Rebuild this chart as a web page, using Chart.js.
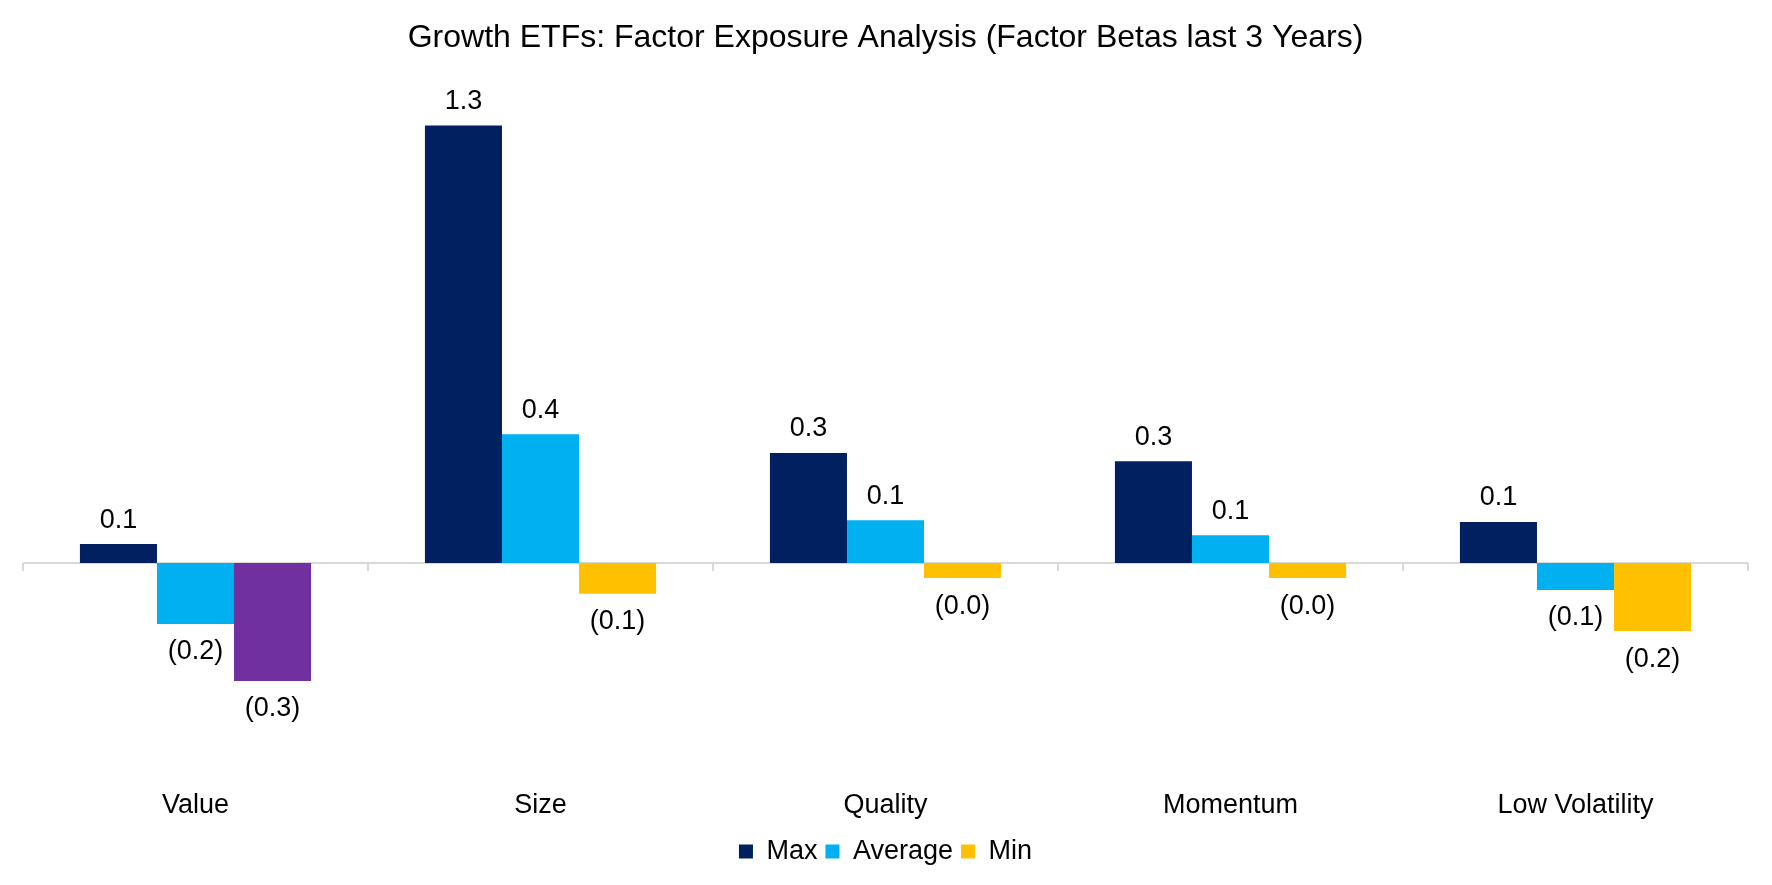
<!DOCTYPE html>
<html>
<head>
<meta charset="utf-8">
<script src="https://cdn.jsdelivr.net/npm/chart.js@4"></script>
<style>
  body { margin: 0; background: #fff; }
  #wrap { width: 1772px; height: 885px; }
</style>
</head>
<body>
<div id="wrap"><canvas id="factorChart"></canvas></div>
<script>
const categories = ['Value', 'Size', 'Quality', 'Momentum', 'Low Volatility'];
const maxBetas = [0.056, 1.288, 0.324, 0.300, 0.121];
const avgBetas = [-0.179, 0.379, 0.126, 0.082, -0.079];
const minBetas = [-0.347, -0.090, -0.044, -0.044, -0.200];

const FONT = '"Liberation Sans", Arial, sans-serif';

// (0.2) style for negatives, like the excel number format
function fmt(v) {
  const s = Math.abs(v).toFixed(1);
  return v < 0 ? '(' + s + ')' : s;
}

const zeroAxis = {
  id: 'zeroAxis',
  beforeDatasetsDraw(chart) {
    const { ctx, chartArea, scales } = chart;
    const y0 = scales.y.getPixelForValue(0);
    ctx.save();
    ctx.strokeStyle = '#d9d9d9';
    ctx.lineWidth = 2;
    ctx.beginPath();
    ctx.moveTo(chartArea.left, y0);
    ctx.lineTo(chartArea.right, y0);
    for (let i = 0; i <= categories.length; i++) {
      const x = scales.x.getPixelForValue(i - 0.5);
      ctx.moveTo(x, y0);
      ctx.lineTo(x, y0 + 8);
    }
    ctx.stroke();
    ctx.restore();
  }
};

const barLabels = {
  id: 'barLabels',
  afterDatasetsDraw(chart) {
    const { ctx } = chart;
    ctx.save();
    ctx.font = '27px ' + FONT;
    ctx.fillStyle = '#000';
    ctx.textAlign = 'center';
    ctx.textBaseline = 'middle';
    chart.data.datasets.forEach((ds, di) => {
      chart.getDatasetMeta(di).data.forEach((bar, i) => {
        const v = ds.data[i];
        const y = v >= 0 ? bar.y - 24 : bar.y + 28;
        ctx.fillText(fmt(v), bar.x, y);
      });
    });
    ctx.restore();
  }
};

new Chart(document.getElementById('factorChart'), {
  type: 'bar',
  data: {
    labels: categories,
    datasets: [
      { label: 'Max', data: maxBetas, backgroundColor: '#002060' },
      { label: 'Average', data: avgBetas, backgroundColor: '#00b0f0' },
      {
        label: 'Min',
        data: minBetas,
        backgroundColor: ['#7030a0', '#ffc000', '#ffc000', '#ffc000', '#ffc000']
      }
    ]
  },
  options: {
    responsive: true,
    maintainAspectRatio: false,
    animation: false,
    layout: { padding: { left: 23, right: 24, bottom: 10 } },
    datasets: { bar: { categoryPercentage: 0.67, barPercentage: 1.0 } },
    scales: {
      x: {
        grid: { display: false },
        border: { display: false },
        ticks: { color: '#000', font: { family: FONT, size: 27 }, padding: 14 },
        afterFit(scale) { scale.height = 63; }
      },
      y: {
        display: false,
        min: -0.6,
        max: 1.4
      }
    },
    plugins: {
      title: {
        display: true,
        text: 'Growth ETFs: Factor Exposure Analysis (Factor Betas last 3 Years)',
        color: '#000',
        font: { family: FONT, size: 32, weight: 'normal' },
        padding: { top: 19, bottom: 30 }
      },
      legend: {
        position: 'bottom',
        labels: {
          color: '#000',
          font: { family: FONT, size: 27 },
          boxWidth: 14,
          boxHeight: 14,
          padding: 8,
          generateLabels(chart) {
            const fills = ['#002060', '#00b0f0', '#ffc000'];
            return chart.data.datasets.map((ds, i) => ({
              text: ds.label,
              fillStyle: fills[i],
              strokeStyle: fills[i],
              lineWidth: 0,
              datasetIndex: i,
              hidden: false,
              fontColor: '#000'
            }));
          }
        }
      },
      tooltip: { enabled: false }
    }
  },
  plugins: [zeroAxis, barLabels]
});
</script>
</body>
</html>
